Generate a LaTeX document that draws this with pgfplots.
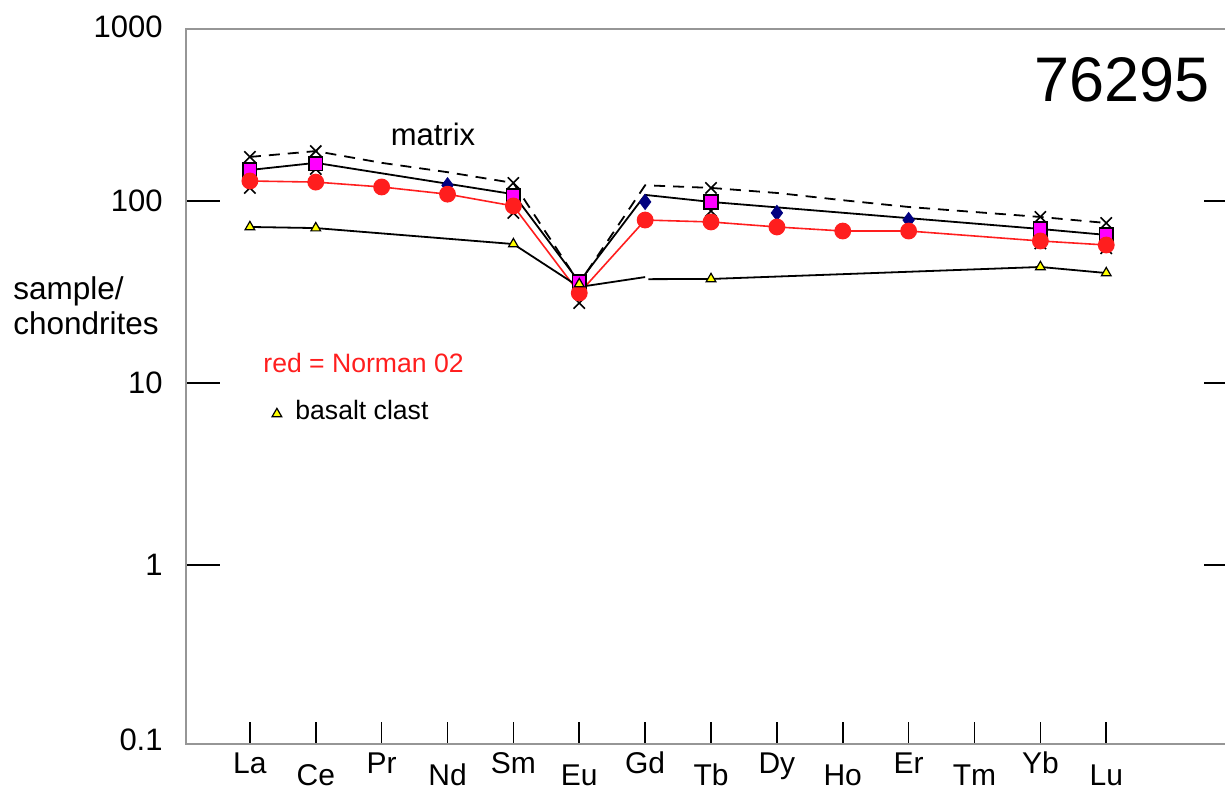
\documentclass[border=0pt]{standalone}
\usepackage{pgfplots}
\pgfplotsset{compat=1.18}
\usepackage{fontspec}
\setmainfont{Liberation Sans}
\definecolor{axgray}{RGB}{150,150,150}
\definecolor{mymag}{RGB}{255,0,255}
\definecolor{mynavy}{RGB}{0,0,128}
\definecolor{myred}{RGB}{255,30,30}
\definecolor{myyel}{RGB}{255,255,0}
\begin{document}
\begin{tikzpicture}
\begin{axis}[
  at={(93bp,23.5bp)}, anchor=south west,
  scale only axis, width=526bp, height=357.5bp,
  xmin=-0.97, xmax=15,
  ymode=log, ymin=0.1039, ymax=881,
  axis line style={axgray, line width=0.8bp},
  tick style={black, line width=0.8bp},
  xtick={0,...,13},
  xticklabels={La,\raisebox{-6.3bp}{Ce},Pr,\raisebox{-6.3bp}{Nd},Sm,\raisebox{-6.3bp}{Eu},Gd,\raisebox{-6.3bp}{Tb},Dy,\raisebox{-6.3bp}{Ho},Er,\raisebox{-6.3bp}{Tm},Yb,\raisebox{-6.3bp}{Lu}},
  xtick pos=bottom, xtick align=inside,
  major x tick style={/pgfplots/major tick length=11bp},
  ytick={1,10,100}, yticklabels={1,10,100},
  ytick pos=both, ytick align=inside,
  major y tick style={/pgfplots/major tick length=17bp},
  yminorticks=false,
  xticklabel style={anchor=base, yshift=-14.5bp, inner sep=0pt, font=\fontsize{15bp}{18bp}\selectfont},
  yticklabel style={anchor=east, xshift=-11.5bp, inner sep=0pt, font=\fontsize{15.5bp}{18bp}\selectfont},
  clip=false,
]
% matrix upper (dashed)
\addplot[black, line width=0.9bp, dash pattern=on 5.5bp off 4bp] coordinates {
(0,174.6) (1,188) (2,162) (3,144) (4,125.6) (5,35.4) (6,122) (7,118) (8,110.7) (9,101) (10,92.7) (11,87) (12,81.7) (13,75.7)};
\addplot[only marks, mark=x, mark size=4bp, black, line width=0.8bp] coordinates {
(0,174.6) (1,188) (4,125.6) (7,118) (12,81.7) (13,75.7)};
% lower X marks
\addplot[only marks, mark=x, mark size=4bp, black, line width=0.8bp] coordinates {
(0,118) (1,150) (4,86) (5,27.5) (7,88) (12,58.5) (13,55)};
% matrix solid with squares
\addplot[black, line width=0.9bp] coordinates {
(0,148) (1,162) (4,109) (5,35.9) (6,108) (7,98.8) (12,70.2) (13,65.1)};
\addplot[only marks, mark=square*, mark size=3.4bp, mark options={fill=mymag, draw=black, line width=0.8bp}] coordinates {
(0,148) (1,160) (4,107) (5,35.9) (7,98.8) (12,70.2) (13,65.1)};
% navy diamonds
\addplot[only marks, mark=diamond*, mark size=3.8bp, mark options={fill=mynavy, draw=mynavy}] coordinates {
(3,122) (6,98.8) (8,86) (10,78.6)};
% red Norman 02
\addplot[myred, line width=0.8bp, mark=*, mark size=3.8bp, mark options={fill=myred, draw=myred}] coordinates {
(0,128.8) (1,127) (2,119.4) (3,109) (4,93.9) (5,31.2) (6,78.6) (7,76.7) (8,72) (9,68.4) (10,68.4) (12,60.3) (13,57.3)};
% basalt clast
\addplot[black, line width=0.9bp] coordinates {
(0,72) (1,71) (4,58) (5,33.7) (6,38.2)};
\addplot[black, line width=0.9bp] coordinates {
(6.05,37.2) (7,37.3) (12,43.4) (13,40.2)};
\addplot[only marks, mark=triangle*, mark size=2.8bp, mark options={fill=myyel, draw=black, line width=0.6bp}] coordinates {
(0,72) (1,71) (4,58) (5,35) (7,37.3) (12,43.4) (13,40.2) (0.41,6.76)};
\end{axis}
\node[anchor=east, inner sep=0pt, font=\fontsize{15.5bp}{18bp}\selectfont] at (81.5bp,382bp) {1000};
\node[anchor=east, inner sep=0pt, font=\fontsize{15.5bp}{18bp}\selectfont] at (81.5bp,25.5bp) {0.1};
\node[anchor=base, inner sep=0pt, font=\fontsize{15.5bp}{18bp}\selectfont] at (216.5bp,322.5bp) {matrix};
\node[anchor=base, inner sep=0pt, font=\fontsize{31.5bp}{36bp}\selectfont] at (561bp,344.5bp) {76295};
\node[anchor=base west, inner sep=0pt, font=\fontsize{15.75bp}{18bp}\selectfont] at (6.5bp,245.5bp) {sample/};
\node[anchor=base west, inner sep=0pt, font=\fontsize{15.75bp}{18bp}\selectfont] at (6.5bp,228bp) {chondrites};
\node[anchor=base west, inner sep=0pt, text=myred, font=\fontsize{13.3bp}{16bp}\selectfont] at (131.5bp,209bp) {red = Norman 02};
\node[anchor=base west, inner sep=0pt, font=\fontsize{13.3bp}{16bp}\selectfont] at (147.5bp,185.5bp) {basalt clast};
\pgfresetboundingbox
\path[use as bounding box] (0,0) rectangle (612.5bp,395.5bp);
\end{tikzpicture}
\end{document}
